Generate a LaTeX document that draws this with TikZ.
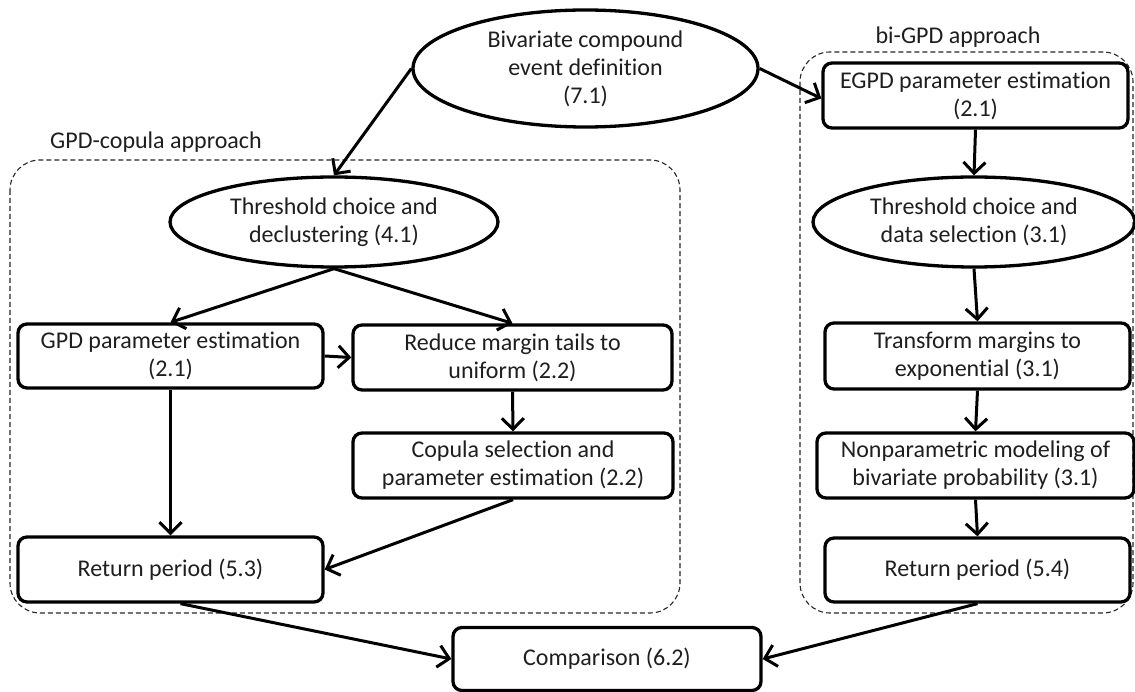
\documentclass[tikz,border=0pt]{standalone}
\usepackage{fontspec}
\setmainfont[Ligatures={NoCommon}]{Carlito}
\usetikzlibrary{shapes.geometric,arrows.meta}
\definecolor{txt}{HTML}{1E1E1E}
\tikzset{
  base/.style={draw=black,line width=3.3pt,inner sep=0pt,align=center,text=txt,
    font=\fontsize{24}{28}\selectfont},
  procbox/.style={base,rectangle,rounded corners=9pt},
  ovalbox/.style={base,ellipse},
  arr/.style={line width=3pt,-{Straight Barb[length=11pt,width=22pt]}},
  frame/.style={draw=black!85,line width=1.1pt,dash pattern=on 5pt off 3pt,rounded corners=30pt},
  framelabel/.style={text=txt,font=\fontsize{24}{28}\selectfont,inner sep=0pt}
}
\begin{document}
\begin{tikzpicture}[x=1pt,y=-1pt]
\useasboundingbox (0,0) rectangle (1135,692);
% frames
\draw[frame] (10,160) rectangle (680,613);
\draw[frame] (800,52) rectangle (1133,613);
\node[framelabel] (lblL) at (156,142) {GPD-copula approach};
\node[framelabel] (lblR) at (958,37) {bi-GPD approach};
% nodes
\node[ovalbox,minimum width=345pt,minimum height=117pt] (top) at (585.5,68.5) {Bivariate compound\\event definition\\(7.1)};
\node[ovalbox,minimum width=328pt,minimum height=90pt] (thL) at (334,222) {Threshold choice and\\declustering (4.1)};
\node[procbox,minimum width=305pt,minimum height=64pt] (gpd) at (170.5,356) {GPD parameter estimation\\(2.1)};
\node[procbox,minimum width=319pt,minimum height=65pt] (red) at (512.5,357.5) {Reduce margin tails to\\uniform (2.2)};
\node[procbox,minimum width=320pt,minimum height=65pt] (cop) at (513,465.5) {Copula selection and\\parameter estimation (2.2)};
\node[procbox,minimum width=305pt,minimum height=65pt] (rpL) at (170.5,569.5) {Return period (5.3)};
\node[procbox,minimum width=305pt,minimum height=65pt] (egpd) at (975.5,95.5) {EGPD parameter estimation\\(2.1)};
\node[ovalbox,minimum width=322pt,minimum height=90pt] (thR) at (974,222) {Threshold choice and\\data selection (3.1)};
\node[procbox,minimum width=305pt,minimum height=66pt] (tr) at (977.5,356) {Transform margins to\\exponential (3.1)};
\node[procbox,minimum width=317pt,minimum height=65pt] (np) at (975.5,465.5) {Nonparametric modeling of\\bivariate probability (3.1)};
\node[procbox,minimum width=305pt,minimum height=64pt] (rpR) at (977.5,570) {Return period (5.4)};
\node[procbox,minimum width=308pt,minimum height=63pt] (cmp) at (607,659) {Comparison (6.2)};
% connectors
\draw[arr] (top.west) -- (thL.north);
\draw[arr] (top.east) -- ([yshift=-3pt]egpd.west);
\draw[arr] (thL.south) -- (gpd.north);
\draw[arr] (thL.south) -- (red.north);
\draw[arr] (gpd.east) -- (red.west);
\draw[arr] (red.south) -- (cop.north);
\draw[arr] (gpd.south) -- (rpL.north);
\draw[arr] (cop.south) -- (rpL.east);
\draw[arr] (egpd.south) -- (thR.north);
\draw[arr] (thR.south) -- (tr.north);
\draw[arr] (tr.south) -- (np.north);
\draw[arr] (np.south) -- (rpR.north);
\draw[arr] ([xshift=10pt]rpL.south) -- (cmp.west);
\draw[arr] (rpR.south) -- (cmp.east);
\end{tikzpicture}
\end{document}
